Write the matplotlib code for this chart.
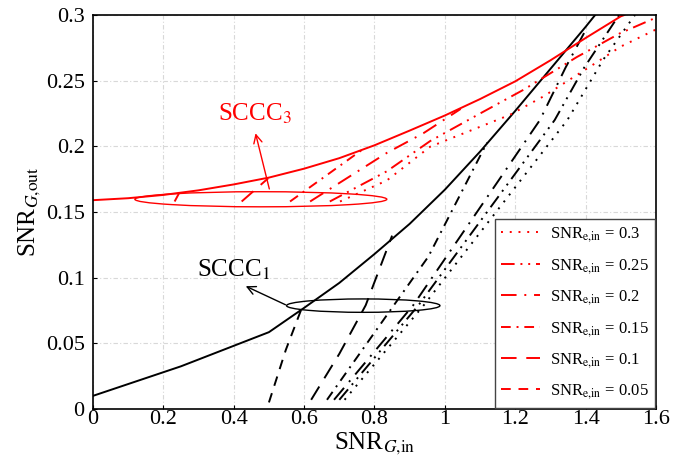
import numpy as np
import matplotlib.pyplot as plt
from matplotlib.patches import Ellipse

plt.rcParams['font.family'] = ['Liberation Serif', 'DejaVu Serif']
plt.rcParams['mathtext.fontset'] = 'stix'

#-------------------------------------------------------------------------------
# SCCC_1 (black) : solid envelope and per SNR_e,in curves
s1_x = [0.0, 0.25, 0.5, 0.6, 0.7, 0.8, 0.9, 1.0, 1.1, 1.2, 1.3, 1.4, 1.427]
s1_y = [0.01, 0.0325, 0.0585, 0.077, 0.096, 0.118, 0.141, 0.167, 0.196, 0.227, 0.259, 0.291, 0.3]

b005_x = [0.50, 0.548, 0.595]
b005_y = [0.005, 0.045, 0.078]
b01_x = [0.62, 0.70, 0.775, 0.85]
b01_y = [0.007, 0.042, 0.079, 0.132]
b015_x = [0.665, 0.855, 0.953, 1.12]
b015_y = [0.007, 0.079, 0.116, 0.203]
b02_x = [0.685, 0.91, 1.27, 1.343, 1.405]
b02_y = [0.007, 0.079, 0.22, 0.26, 0.291]
b025_x = [0.70, 0.925, 1.312, 1.396, 1.495]
b025_y = [0.007, 0.079, 0.22, 0.26, 0.3]
b03_x = [0.715, 0.94, 1.348, 1.45, 1.54]
b03_y = [0.007, 0.079, 0.22, 0.266, 0.3]

# SCCC_3 (red)
s3_x = [0.0, 0.1, 0.2, 0.3, 0.4, 0.5, 0.6, 0.7, 0.8, 0.9, 1.0, 1.1, 1.2, 1.3, 1.4, 1.5, 1.51]
s3_y = [0.159, 0.1605, 0.163, 0.1665, 0.171, 0.1762, 0.183, 0.191, 0.2008, 0.212,
        0.2235, 0.236, 0.2495, 0.2655, 0.2825, 0.299, 0.3]

r005_x = [0.232, 0.245]
r005_y = [0.158, 0.1645]
r01_x = [0.4225, 0.498]
r01_y = [0.158, 0.1757]
r015_x = [0.56, 0.768]
r015_y = [0.158, 0.198]
r02_x = [0.617, 0.835, 0.939, 1.045]
r02_y = [0.158, 0.195, 0.21, 0.2285]
r025_x = [0.673, 0.835, 0.958, 1.1, 1.223, 1.375, 1.497, 1.6]
r025_y = [0.158, 0.181, 0.204, 0.225, 0.243, 0.268, 0.286, 0.298]
r03_x = [0.702, 0.835, 0.958, 1.185, 1.28, 1.42, 1.5, 1.6]
r03_y = [0.158, 0.174, 0.1997, 0.224, 0.238, 0.262, 0.276, 0.289]

snr_e = ['0.3', '0.25', '0.2', '0.15', '0.1', '0.05']
#-------------------------------------------------------------------------------
dash = {'0.3': (0, (1, 3.5)),
        '0.25': (0, (7, 3, 1, 3, 1, 3)),
        '0.2': (0, (8, 4, 1, 4)),
        '0.15': (0, (5, 3, 1, 3)),
        '0.1': (0, (8, 5)),
        '0.05': (0, (5, 4))}

fig = plt.figure(figsize=(6.97, 4.72), dpi=100)
ax = fig.add_axes([0.1334, 0.1335, 0.8078, 0.8347])

lw = 1.4
ax.plot(s1_x, s1_y, 'k-', lw=lw)
black = {'0.3': (b03_x, b03_y), '0.25': (b025_x, b025_y), '0.2': (b02_x, b02_y),
         '0.15': (b015_x, b015_y), '0.1': (b01_x, b01_y), '0.05': (b005_x, b005_y)}
for s in snr_e:
    ax.plot(black[s][0], black[s][1], color='k', lw=lw, linestyle=dash[s])

ax.plot(s3_x, s3_y, 'r-', lw=lw)
red = {'0.3': (r03_x, r03_y), '0.25': (r025_x, r025_y), '0.2': (r02_x, r02_y),
       '0.15': (r015_x, r015_y), '0.1': (r01_x, r01_y), '0.05': (r005_x, r005_y)}
for s in snr_e:
    ax.plot(red[s][0], red[s][1], color='r', lw=lw, linestyle=dash[s],
            label=r'SNR$_{\mathrm{e{,}in}}$ = ' + s)

# ellipses + arrows
ax.add_patch(Ellipse((0.477, 0.1597), 0.716, 0.0115, fill=False, ec='r', lw=1))
ax.annotate('', xy=(0.46, 0.212), xytext=(0.503, 0.1655),
            arrowprops=dict(arrowstyle='->', color='r', lw=1, mutation_scale=15))
ax.text(0.46, 0.225, r'SCCC$_3$', color='r', fontsize=18, ha='center', va='center')

ax.add_patch(Ellipse((0.768, 0.0787), 0.436, 0.0102, fill=False, ec='k', lw=1))
ax.annotate('', xy=(0.427, 0.0944), xytext=(0.554, 0.0785),
            arrowprops=dict(arrowstyle='->', color='k', lw=1, mutation_scale=15))
ax.text(0.40, 0.106, r'SCCC$_1$', color='k', fontsize=18, ha='center', va='center')

#-------------------------------------------------------------------------------
ax.set_xlim(0, 1.6)
ax.set_ylim(0, 0.3)
ax.set_xticks(np.arange(0, 1.61, 0.2))
ax.set_xticklabels(['0', '0.2', '0.4', '0.6', '0.8', '1', '1.2', '1.4', '1.6'])
ax.set_yticks(np.arange(0, 0.301, 0.05))
ax.set_yticklabels(['0', '0.05', '0.1', '0.15', '0.2', '0.25', '0.3'])
ax.tick_params(direction='in', labelsize=16, length=3)
ax.tick_params(axis='x', pad=1)
ax.tick_params(axis='y', pad=6)
ax.grid(True, color='#d8d8d8', linestyle=(0, (4, 2, 1, 2)), lw=0.8)
ax.set_axisbelow(True)
ax.set_xlabel(r'SNR$_{G{,}\mathrm{in}}$', fontsize=18, labelpad=1)
ax.set_ylabel(r'SNR$_{G{,}\mathrm{out}}$', fontsize=18, labelpad=2)
for sp in ax.spines.values():
    sp.set_linewidth(1.2)

leg = ax.legend(loc='lower right', fontsize=12, handlelength=2.3, fancybox=False,
                edgecolor='#444444', framealpha=1, borderaxespad=0.05,
                labelspacing=0.75, handletextpad=0.6)
leg.get_frame().set_linewidth(1.0)

fig.savefig('out.png', dpi=100)
